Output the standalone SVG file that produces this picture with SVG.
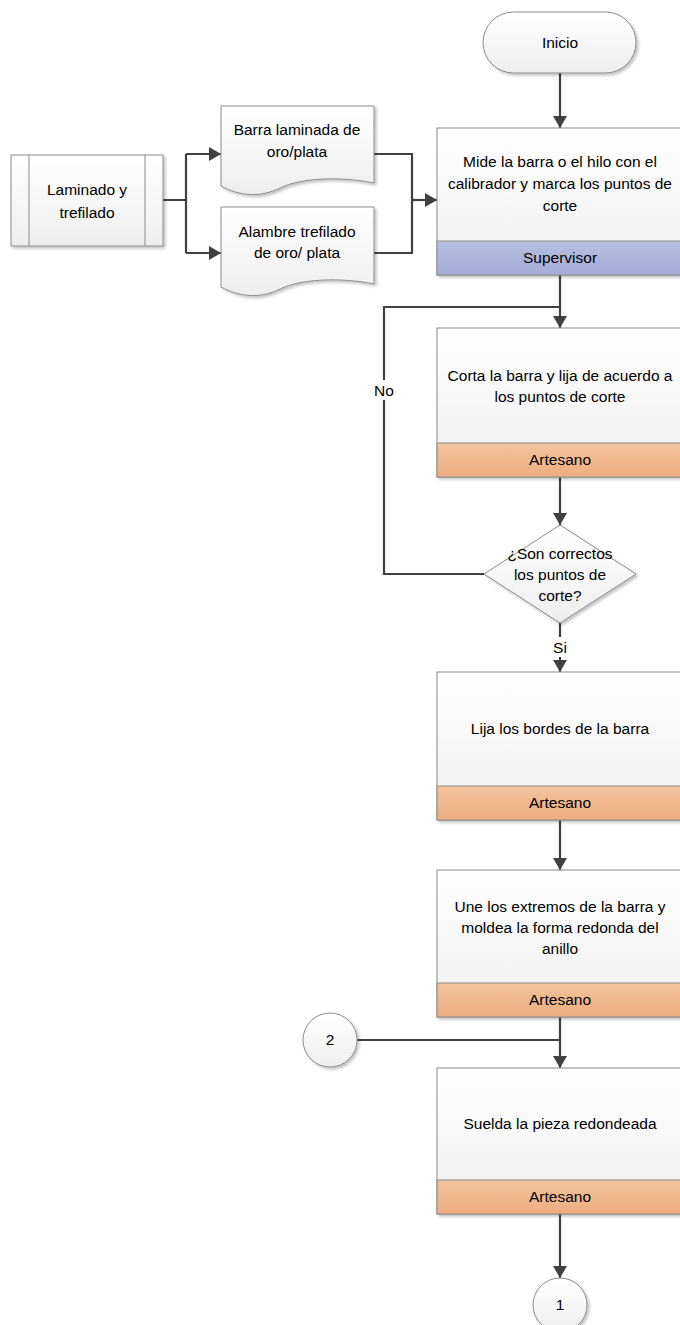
<svg xmlns="http://www.w3.org/2000/svg" width="680" height="1325" viewBox="0 0 680 1325">
<style>
text{font-family:"Liberation Sans",Arial,sans-serif;font-size:15.5px;fill:#000;text-anchor:middle}
.sh{fill:url(#g);stroke:#8c8c8c;stroke-width:1;filter:url(#ds)}
.blue{fill:url(#gb);stroke:#8c8c8c;stroke-width:1}
.org{fill:url(#go);stroke:#8c8c8c;stroke-width:1}
.c{fill:none;stroke:#404040;stroke-width:2.2}
.ca{fill:none;stroke:#404040;stroke-width:2.2;marker-end:url(#ah)}
</style>
<defs>
<linearGradient id="g" x1="0" y1="0" x2="0" y2="1"><stop offset="0" stop-color="#ffffff"/><stop offset="1" stop-color="#eeeeee"/></linearGradient>
<linearGradient id="gb" x1="0" y1="0" x2="0" y2="1"><stop offset="0" stop-color="#b6bedf"/><stop offset="1" stop-color="#a2acd6"/></linearGradient>
<linearGradient id="go" x1="0" y1="0" x2="0" y2="1"><stop offset="0" stop-color="#f3c39d"/><stop offset="1" stop-color="#edad7f"/></linearGradient>
<filter id="ds" x="-10%" y="-10%" width="130%" height="130%"><feDropShadow dx="2" dy="2" stdDeviation="1.5" flood-color="#000" flood-opacity="0.25"/></filter>
<marker id="ah" viewBox="0 0 12 14" refX="12" refY="7" markerWidth="12" markerHeight="14" markerUnits="userSpaceOnUse" orient="auto"><path d="M0,0 L12,7 L0,14 Z" fill="#404040"/></marker>
</defs>
<g id="connectors">
<path class="ca" d="M560,73 V128"/>
<path class="c" d="M163,200 H186 M186,154 V253"/>
<path class="ca" d="M186,154 H221"/>
<path class="ca" d="M186,253 H221"/>
<path class="c" d="M374,154 H412 V253 H374"/>
<path class="ca" d="M412,200 H437"/>
<path class="ca" d="M560,275 V328"/>
<path class="c" d="M484,574 H384 V307 H560"/>
<path class="ca" d="M560,477 V525"/>
<path class="ca" d="M560,623 V672"/>
<path class="ca" d="M560,820 V870"/>
<path class="ca" d="M560,1017 V1068"/>
<path class="c" d="M357,1040 H560"/>
<path class="ca" d="M560,1214 V1278"/>
<rect x="371" y="380" width="26" height="20" fill="#fff"/>
<text x="384" y="396">No</text>
<rect x="550" y="637" width="20" height="20" fill="#fff"/>
<text x="560" y="653">Si</text>
</g>
<g id="inicio">
<rect class="sh" x="483" y="12" width="153" height="61" rx="30.5"/>
<text x="560" y="48">Inicio</text>
</g>
<g id="laminado">
<rect class="sh" x="11" y="155" width="152" height="91"/>
<path d="M29,155 V246 M145,155 V246" stroke="#8c8c8c" fill="none"/>
<text x="87" y="195">Laminado y</text>
<text x="87" y="218">trefilado</text>
</g>
<g id="doc1">
<path class="sh" d="M221,106 H374 V183 C340,176 300,178 280,188 C260,198 240,196 221,186 Z"/>
<text x="297" y="135">Barra laminada de</text>
<text x="297" y="157">oro/plata</text>
</g>
<g id="doc2">
<path class="sh" d="M221,207 H374 V284 C340,277 300,279 280,289 C260,299 240,297 221,287 Z"/>
<text x="297" y="237">Alambre trefilado</text>
<text x="297" y="258">de oro/ plata</text>
</g>
<g id="p1">
<rect class="sh" x="437" y="128" width="246" height="147"/>
<rect class="blue" x="437" y="241" width="246" height="34"/>
<text x="560" y="167">Mide la barra o el hilo con el</text>
<text x="560" y="189">calibrador y marca los puntos de</text>
<text x="560" y="211">corte</text>
<text x="560" y="263">Supervisor</text>
</g>
<g id="p2">
<rect class="sh" x="437" y="328" width="246" height="149"/>
<rect class="org" x="437" y="443" width="246" height="34"/>
<text x="560" y="381">Corta la barra y lija de acuerdo a</text>
<text x="560" y="402">los puntos de corte</text>
<text x="560" y="465">Artesano</text>
</g>
<g id="decision">
<path class="sh" d="M560,525 L636,574 L560,623 L484,574 Z"/>
<text x="560" y="559">¿Son correctos</text>
<text x="560" y="580">los puntos de</text>
<text x="560" y="601">corte?</text>
</g>
<g id="p3">
<rect class="sh" x="437" y="672" width="246" height="148"/>
<rect class="org" x="437" y="786" width="246" height="34"/>
<text x="560" y="734">Lija los bordes de la barra</text>
<text x="560" y="808">Artesano</text>
</g>
<g id="p4">
<rect class="sh" x="437" y="870" width="246" height="147"/>
<rect class="org" x="437" y="983" width="246" height="34"/>
<text x="560" y="912">Une los extremos de la barra y</text>
<text x="560" y="933">moldea la forma redonda del</text>
<text x="560" y="954">anillo</text>
<text x="560" y="1005">Artesano</text>
</g>
<g id="conn2">
<circle class="sh" cx="330" cy="1040" r="27"/>
<text x="330" y="1045">2</text>
</g>
<g id="p5">
<rect class="sh" x="437" y="1068" width="246" height="146"/>
<rect class="org" x="437" y="1180" width="246" height="34"/>
<text x="560" y="1129">Suelda la pieza redondeada</text>
<text x="560" y="1202">Artesano</text>
</g>
<g id="conn1">
<circle class="sh" cx="560" cy="1305" r="27"/>
<text x="560" y="1310">1</text>
</g>
</svg>
